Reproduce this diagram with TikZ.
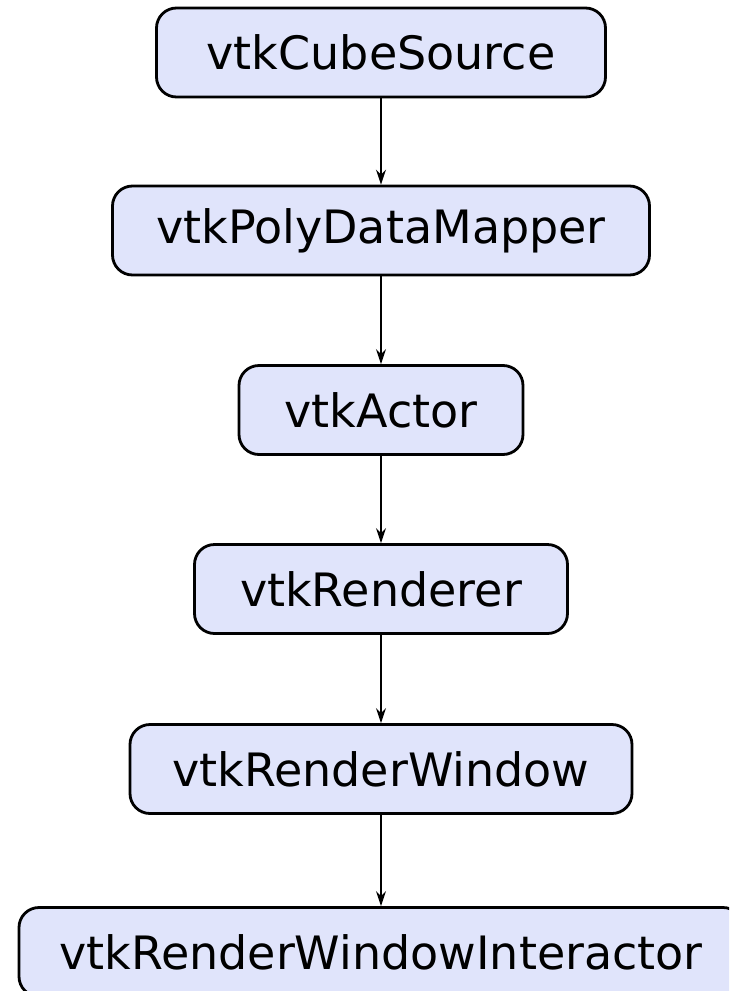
\documentclass[tikz,border=0pt]{standalone}
\usepackage{fontspec}
\setmainfont{DejaVu Sans}
\usetikzlibrary{arrows.meta}
\definecolor{boxfill}{RGB}{224,228,251}
\tikzset{
  vbox/.style={draw=black, fill=boxfill, line width=2.8pt, rounded corners=20pt,
    minimum height=89pt, inner sep=0pt, font=\fontsize{46}{50}\selectfont},
  flow/.style={line width=2pt, -{Stealth[length=15pt,width=10pt,inset=5pt]}}
}
\begin{document}
\begin{tikzpicture}[x=1pt,y=1pt]
\clip (0,0) rectangle (729,-991);
\fill[white] (0,0) rectangle (729,-991);
\node[vbox, minimum width=449pt] (a) at (381,-52.5) {vtkCubeSource};
\node[vbox, minimum width=537pt] (b) at (381,-230.5) {vtkPolyDataMapper};
\node[vbox, minimum width=284pt] (c) at (381,-410) {vtkActor};
\node[vbox, minimum width=373pt] (d) at (381,-589) {vtkRenderer};
\node[vbox, minimum width=502pt] (e) at (381,-769) {vtkRenderWindow};
\node[vbox, minimum width=724pt] (f) at (381,-952) {vtkRenderWindowInteractor};
\draw[flow] (a.south) -- (b.north);
\draw[flow] (b.south) -- (c.north);
\draw[flow] (c.south) -- (d.north);
\draw[flow] (d.south) -- (e.north);
\draw[flow] (e.south) -- (f.north);
\end{tikzpicture}
\end{document}
